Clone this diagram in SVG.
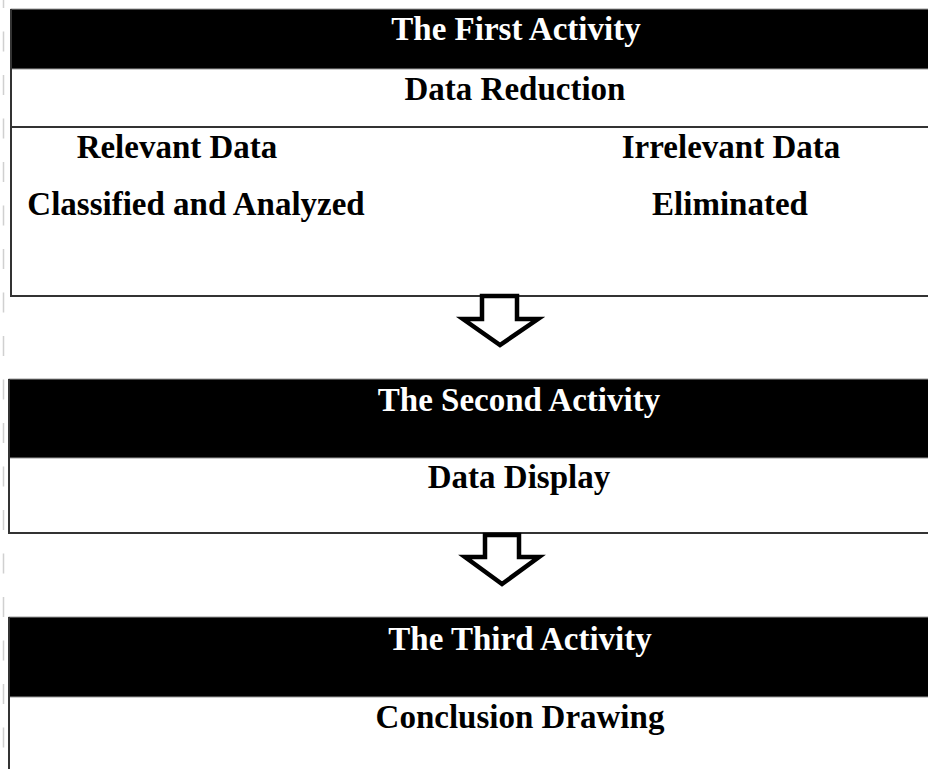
<svg xmlns="http://www.w3.org/2000/svg" width="928" height="769" viewBox="0 0 928 769">
  <style>
    .bar { fill: #000; stroke: #9a9a9a; stroke-width: 1; }
    .rule { stroke: #333; stroke-width: 2; fill: none; }
    .hd { font-family: "Liberation Serif", "Times New Roman", serif; font-weight: bold; font-size: 33px; fill: #fff; text-anchor: middle; }
    .tx { font-family: "Liberation Serif", "Times New Roman", serif; font-weight: bold; font-size: 33px; fill: #000; text-anchor: middle; }
    .arrow { fill: #fff; stroke: #000; stroke-width: 4.5; stroke-linejoin: miter; }
    .margin { stroke: #d0d0d0; stroke-width: 1.5; stroke-dasharray: 20 23.5; stroke-dashoffset: 12; }
  </style>
  <rect x="0" y="0" width="928" height="769" fill="#fff"/>
  <line class="margin" x1="3.5" y1="0" x2="3.5" y2="769"/>

  <g id="first-activity">
    <rect class="bar" x="11" y="9" width="930" height="60"/>
    <text class="hd" x="516" y="40">The First Activity</text>
    <text class="tx" x="515" y="100">Data Reduction</text>
    <line class="rule" x1="11" y1="127" x2="928" y2="127"/>
    <text class="tx" x="177" y="158">Relevant Data</text>
    <text class="tx" x="196" y="215">Classified and Analyzed</text>
    <text class="tx" x="731" y="158">Irrelevant Data</text>
    <text class="tx" x="730" y="215">Eliminated</text>
    <line class="rule" x1="11" y1="9" x2="11" y2="297"/>
    <line class="rule" x1="10" y1="296" x2="928" y2="296"/>
  </g>

  <g id="second-activity">
    <rect class="bar" x="9" y="379" width="930" height="79"/>
    <text class="hd" x="519" y="411">The Second Activity</text>
    <text class="tx" x="519" y="488">Data Display</text>
    <line class="rule" x1="9" y1="379" x2="9" y2="534"/>
    <line class="rule" x1="8" y1="533" x2="928" y2="533"/>
  </g>

  <g id="third-activity">
    <rect class="bar" x="9" y="617" width="930" height="80"/>
    <text class="hd" x="520" y="650">The Third Activity</text>
    <text class="tx" x="520" y="728">Conclusion Drawing</text>
    <line class="rule" x1="9" y1="617" x2="9" y2="769"/>
  </g>

  <g id="connectors">
    <polygon class="arrow" points="482,296 517,296 517,319 538,319 500,345 463,319 482,319"/>
    <polygon class="arrow" points="485,535 519,535 519,557 539,557 502,584 465,557 485,557"/>
  </g>
</svg>
